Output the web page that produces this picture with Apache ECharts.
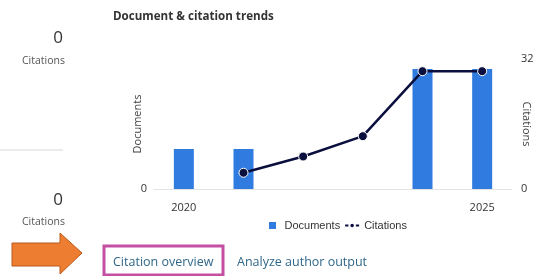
<!DOCTYPE html>
<html>
<head>
<meta charset="utf-8">
<script src="https://cdn.jsdelivr.net/npm/echarts@6/dist/echarts.min.js"></script>
<style>
  html, body { margin: 0; padding: 0; background: #fff; }
  #main { width: 542px; height: 276px; }
</style>
</head>
<body>
<div id="main"></div>
<script>
var years = ['2020', '2021', '2022', '2023', '2024', '2025'];
var documents = [1, 1, 0, 0, 3, 3];
var citations = [null, 4, 8, 13, 29, 29];
var citeTicks = [0, 32];

var myChart = echarts.init(document.getElementById('main'));
var uiFont = 'Open Sans';

var option = {
    animation: false,
    title: {
        text: 'Document & citation trends',
        left: 108,
        top: 6,
        textStyle: { fontFamily: uiFont, fontSize: 11.6, fontWeight: 'bold', color: '#333' }
    },
    legend: {
        top: 215,
        left: 264,
        itemWidth: 14,
        itemHeight: 7,
        itemGap: 4,
        textStyle: { fontFamily: 'Liberation Sans', fontSize: 11, color: '#333' },
        data: [
            { name: 'Documents', icon: 'path://M0,0h10v10h-10z' },
            { name: 'Citations' }
        ]
    },
    grid: { left: 154, right: 30, top: 59, bottom: 87, outerBoundsMode: 'none', containLabel: false },
    xAxis: {
        type: 'category',
        data: years,
        axisLine: { lineStyle: { color: '#e3e3e3' } },
        axisTick: { show: false },
        axisLabel: {
            interval: 0,
            margin: 13,
            color: '#333',
            fontFamily: uiFont,
            fontSize: 11,
            formatter: function (v, i) {
                return (i === 0 || i === years.length - 1) ? v : '';
            }
        }
    },
    yAxis: [
        {
            type: 'value',
            min: 0,
            max: 3.25,
            interval: 3.25,
            name: 'Documents',
            nameLocation: 'middle',
            nameGap: 11,
            nameRotate: 90,
            nameMoveOverlap: false,
            nameTextStyle: { fontFamily: uiFont, fontSize: 11, color: '#444' },
            axisLine: { show: false },
            axisTick: { show: false },
            splitLine: { show: false },
            axisLabel: {
                color: '#333', fontFamily: uiFont, fontSize: 11, margin: 7,
                formatter: function (v) { return v === 0 ? '0' : ''; }
            }
        },
        {
            type: 'value',
            min: citeTicks[0],
            max: citeTicks[1],
            interval: 32,
            name: 'Citations',
            nameLocation: 'middle',
            nameGap: 9,
            nameRotate: -90,
            nameMoveOverlap: false,
            nameTextStyle: { fontFamily: uiFont, fontSize: 11, color: '#444' },
            axisLine: { show: false },
            axisTick: { show: false },
            splitLine: { show: false },
            axisLabel: { color: '#333', fontFamily: uiFont, fontSize: 11, margin: 9 }
        }
    ],
    series: [
        {
            name: 'Documents',
            type: 'bar',
            yAxisIndex: 0,
            barWidth: 20,
            itemStyle: { color: '#2f7be0' },
            data: documents
        },
        {
            name: 'Citations',
            type: 'line',
            yAxisIndex: 1,
            symbol: 'circle',
            symbolSize: 9,
            connectNulls: false,
            lineStyle: { color: '#0b0f3d', width: 2.5 },
            itemStyle: { color: '#0b0f3d', borderColor: '#fff', borderWidth: 1 },
            data: citations
        }
    ],
    graphic: [
        { type: 'text', right: 479, top: 30, style: { text: '0', fontFamily: uiFont, fontSize: 17, fill: '#333', textAlign: 'right' } },
        { type: 'text', left: 22, top: 56, style: { text: 'Citations', fontFamily: uiFont, fontSize: 10.5, fill: '#555' } },
        { type: 'line', shape: { x1: 0, y1: 150, x2: 63, y2: 150 }, style: { stroke: '#d8d8d8', lineWidth: 1 } },
        { type: 'text', right: 479, top: 192, style: { text: '0', fontFamily: uiFont, fontSize: 17, fill: '#333', textAlign: 'right' } },
        { type: 'text', left: 22, top: 217, style: { text: 'Citations', fontFamily: uiFont, fontSize: 10.5, fill: '#555' } },
        {
            type: 'polygon',
            shape: { points: [[12, 243], [60, 243], [60, 233], [82, 253], [60, 274], [60, 266], [12, 266]] },
            style: { fill: '#ed7d31', stroke: '#b85a1a', lineWidth: 1 }
        },
        {
            type: 'rect',
            shape: { x: 104, y: 246, width: 119, height: 29 },
            style: { fill: 'none', stroke: '#c44fa3', lineWidth: 3 }
        },
        { type: 'text', left: 113, top: 256, style: { text: 'Citation overview', fontFamily: uiFont, fontSize: 12.5, fill: '#2f6789' } },
        { type: 'text', left: 237, top: 256, style: { text: 'Analyze author output', fontFamily: uiFont, fontSize: 12.5, fill: '#2f6789' } }
    ]
};

myChart.setOption(option);
</script>
</body>
</html>
